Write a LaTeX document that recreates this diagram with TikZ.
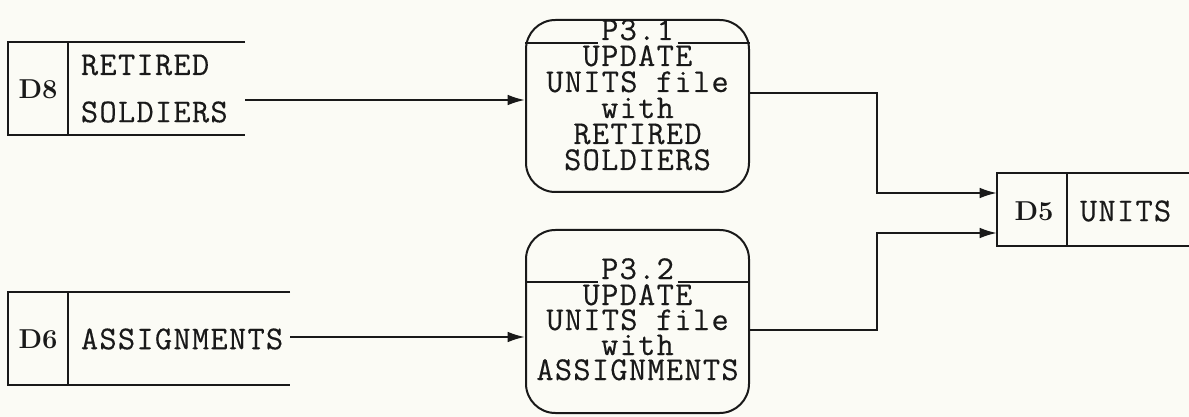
\documentclass[tikz,border=0pt]{standalone}
\usepackage{fontspec}
\usetikzlibrary{arrows.meta}
\definecolor{paper}{RGB}{251,251,245}
\definecolor{ink}{RGB}{25,25,25}
% typewriter face with a little extra spacing between letters
\newfontfamily\typew[LetterSpace=4,FakeBold=0.35]{Latin Modern Mono}

\begin{document}
\begin{tikzpicture}[x=0.75pt,y=-0.75pt,
  line width=1.5pt, draw=ink,
  flow/.style={draw=ink, -{Latex[length=13pt,width=8pt]}},
  storenode/.style n args={2}{draw=none, inner sep=0pt, outer sep=0pt,
     minimum width={#1*0.75pt}, minimum height={#2*0.75pt}},
  procnode/.style n args={2}{draw=ink, rounded corners=22pt, inner sep=0pt,
     minimum width={#1*0.75pt}, minimum height={#2*0.75pt}},
  idlabel/.style={text=ink, inner sep=0pt, font=\fontsize{20.5}{20}\selectfont\bfseries},
  tw/.style={text=ink, inner sep=0pt, font=\fontsize{25}{20}\selectfont\typew},
  ptitle/.style={text=ink, inner sep=0pt, anchor=base, font=\fontsize{25}{20}\selectfont\typew}
]
\fill[paper] (0,0) rectangle (1189,417);
\useasboundingbox (0,0) rectangle (1189,417);

% ---- data store D8
\node[storenode={237}{93}] (d8) at (126.5,88.5) {};
\draw (245,42) -- (8,42) -- (8,135) -- (245,135);
\draw (68,42) -- (68,135);
\node[idlabel] (d8id) at (38,89) {D8};
\node[tw, anchor=west] (d8a) at (80,65) {RETIRED};
\node[tw, anchor=west] (d8b) at (80,112) {SOLDIERS};

% ---- data store D6
\node[storenode={282}{93}] (d6) at (149,338.5) {};
\draw (290,292) -- (8,292) -- (8,385) -- (290,385);
\draw (68,292) -- (68,385);
\node[idlabel] (d6id) at (38,339) {D6};
\node[tw, anchor=west] (d6a) at (80,339) {ASSIGNMENTS};

% ---- data store D5
\node[storenode={192}{73}] (d5) at (1093,209.5) {};
\draw (1189,173) -- (997,173) -- (997,246) -- (1189,246);
\draw (1067,173) -- (1067,246);
\node[idlabel] (d5id) at (1034,211) {D5};
\node[tw, anchor=west] (d5a) at (1079,211) {UNITS};

% ---- process P3.1
\node[procnode={223}{172}] (p31) at (637.5,106) {};
\node[ptitle] (t31) at (637.5,40) {P3.1};
\draw (p31.west |- 0,43) -- ([xshift=-2pt]t31.west |- 0,43);
\draw ([xshift=2pt]t31.east |- 0,43) -- (p31.east |- 0,43);
\node[tw, anchor=base] (b31a) at (637.5,66) {UPDATE};
\node[tw, anchor=base] (b31b) at (637.5,92) {UNITS file};
\node[tw, anchor=base] (b31c) at (637.5,118) {with};
\node[tw, anchor=base] (b31d) at (637.5,144) {RETIRED};
\node[tw, anchor=base] (b31e) at (637.5,170) {SOLDIERS};

% ---- process P3.2
\node[procnode={223}{183}] (p32) at (637.5,321.5) {};
\node[ptitle] (t32) at (637.5,279) {P3.2};
\draw (p32.west |- 0,282) -- ([xshift=-2pt]t32.west |- 0,282);
\draw ([xshift=2pt]t32.east |- 0,282) -- (p32.east |- 0,282);
\node[tw, anchor=base] (b32a) at (637.5,305) {UPDATE};
\node[tw, anchor=base] (b32b) at (637.5,330) {UNITS file};
\node[tw, anchor=base] (b32c) at (637.5,355) {with};
\node[tw, anchor=base] (b32d) at (637.5,380) {ASSIGNMENTS};

% ---- flows
\draw[flow] (d8.east |- 0,100) -- (p31.west |- 0,100);
\draw[flow] (d6.east |- 0,337) -- (p32.west |- 0,337);
\draw[flow] (p31.east |- 0,93) -- (877,93) -- (877,193) -- (d5.west |- 0,193);
\draw[flow] (p32.east |- 0,330) -- (877,330) -- (877,233) -- (d5.west |- 0,233);
\end{tikzpicture}
\end{document}
